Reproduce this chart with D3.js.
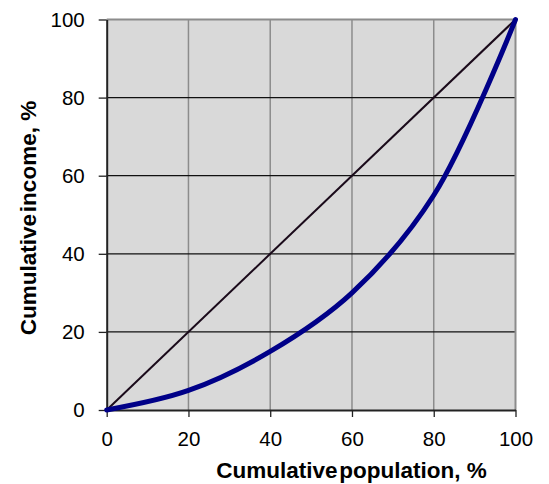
<!DOCTYPE html>
<html><head><meta charset="utf-8">
<script src="https://cdn.jsdelivr.net/npm/d3@7"></script>
<style>body{margin:0;background:#fff}svg{display:block}</style>
</head><body>
<script>
const population = [0, 20, 40, 60, 80, 100];
const income =     [0, 5, 15, 30, 55, 100];
const equality = [[0, 0], [100, 100]];
const xTicks = [0, 20, 40, 60, 80, 100];
const yTicks = [0, 20, 40, 60, 80, 100];
const xTitle = ["Cumulative population,", " %"];
const yTitle = ["Cumulative income,", " %"];

const W = 549, H = 484;
const svg = d3.select("body").append("svg").attr("width", W).attr("height", H);
const x = d3.scaleLinear().domain([0, 100]).range([106.7, 515.5]);
const y = d3.scaleLinear().domain([0, 100]).range([410, 19.5]);

svg.append("rect").attr("x", x(0)).attr("y", y(100))
  .attr("width", x(100) - x(0)).attr("height", y(0) - y(100)).attr("fill", "#d9d9d9");

svg.append("g").selectAll("line").data(xTicks.filter(d => d > 0 && d < 100)).join("line")
  .attr("x1", d => x(d)).attr("x2", d => x(d)).attr("y1", y(0)).attr("y2", y(100))
  .attr("stroke", "#8c8c8c").attr("stroke-width", 1.5);
svg.append("g").selectAll("line").data(yTicks.filter(d => d > 0 && d < 100)).join("line")
  .attr("x1", x(0)).attr("x2", x(100)).attr("y1", d => y(d)).attr("y2", d => y(d))
  .attr("stroke", "#111").attr("stroke-width", 1.3);
svg.append("path").attr("d", `M${x(0)},${y(100)}H${x(100)}V${y(0)}`)
  .attr("fill", "none").attr("stroke", "#8c8c8c").attr("stroke-width", 2);

const xAxis = svg.append("g").attr("transform", `translate(0,${y(0)})`)
  .call(d3.axisBottom(x).tickValues(xTicks).tickSize(7).tickPadding(14).tickSizeOuter(0));
const yAxis = svg.append("g").attr("transform", `translate(${x(0)},0)`)
  .call(d3.axisLeft(y).tickValues(yTicks).tickSize(8).tickPadding(14).tickSizeOuter(0));
[xAxis, yAxis].forEach(g => {
  g.select(".domain").attr("stroke", "#222").attr("stroke-width", 2);
  g.selectAll(".tick line").attr("stroke", "#222").attr("stroke-width", 1.3);
  g.selectAll("text").attr("font-family", "Liberation Sans, Arial, sans-serif")
    .attr("font-size", 20.5).attr("fill", "#000");
});

svg.append("path").datum(equality)
  .attr("d", d3.line().x(d => x(d[0])).y(d => y(d[1])))
  .attr("fill", "none").attr("stroke", "#1a0a1a").attr("stroke-width", 2);

const pts = population.map((p, i) => [p, income[i]]);
svg.append("path").datum(pts)
  .attr("d", d3.line().curve(d3.curveCatmullRom.alpha(0.5)).x(d => x(d[0])).y(d => y(d[1])))
  .attr("fill", "none").attr("stroke", "#000088").attr("stroke-width", 5)
  .attr("stroke-linecap", "round");

function title(sel, parts) {
  sel.attr("text-anchor", "middle")
    .attr("font-family", "Liberation Sans, Arial, sans-serif").attr("font-weight", "bold")
    .attr("font-size", 22.5);
  sel.append("tspan").attr("word-spacing", -4.5).text(parts[0]);
  sel.append("tspan").text(parts[1]);
}
title(svg.append("text").attr("x", 351.5).attr("y", 478), xTitle);
title(svg.append("text").attr("transform", "translate(36,218) rotate(-90)"), yTitle);
</script>
</body></html>
